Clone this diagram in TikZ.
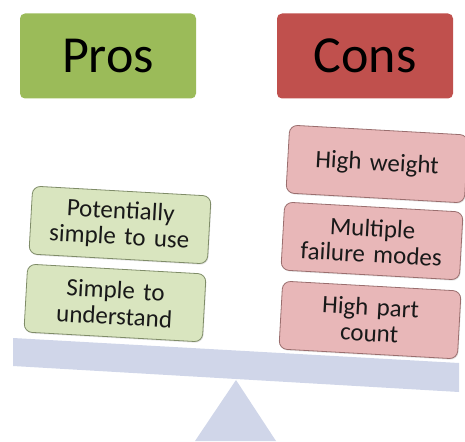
\documentclass[tikz,border=0pt]{standalone}
\usepackage{fontspec}
\setmainfont{Carlito}
\usetikzlibrary{shadows}
\definecolor{prohead}{HTML}{9BBB59}
\definecolor{conhead}{HTML}{C0504D}
\definecolor{profill}{HTML}{D9E5BF}
\definecolor{confill}{HTML}{E8B7B8}
\definecolor{proline}{HTML}{7F8C68}
\definecolor{conline}{HTML}{9A6E6E}
\definecolor{beamcolor}{HTML}{D0D6E9}
\newcommand{\tilt}{-3.2}

\begin{document}
\begin{tikzpicture}[x=1pt, y=-1pt,
    head/.style={rounded corners=5pt, minimum width=176pt, minimum height=85pt,
        font=\fontsize{52}{56}\selectfont, text=black},
    item/.style={rounded corners=8pt, minimum width=176pt, minimum height=68pt,
        text width=172pt, align=center, line width=0.8pt, rotate=\tilt,
        drop shadow={opacity=0.2, shadow xshift=0.8pt, shadow yshift=-1.2pt},
        font=\fontsize{25}{26}\selectfont, text=black!90}]
        \useasboundingbox (0, 0) rectangle (465, 441);
        \coordinate (BL) at (13, 338);
        \coordinate (BR) at (459, 363);
        \coordinate (BRb) at (459, 392);
        \coordinate (BLb) at (13, 366);
        \coordinate (T) at (236, 380);

        % fulcrum and beam
        \fill[beamcolor] (T) -- (276, 441) -- (195, 441) -- cycle;
        \fill[beamcolor] (BL) -- (BR) -- (BRb) -- (BLb) -- cycle;

        % headers
        \node[head, fill=prohead] (pros) at (108, 56) {Pros};
        \node[head, fill=conhead] (cons) at (365, 56) {Cons};

        % pros side
        \node[item, fill=profill, draw=proline] (simple) at (115, 303) {Simple to\\understand};
        \node[item, fill=profill, draw=proline] (potential) at (120, 225) {Potentially\\simple to use};

        % cons side
        \node[item, fill=confill, draw=conline] (partcount) at (370, 320) {High part\\count};
        \node[item, fill=confill, draw=conline] (failure) at (372, 241) {Multiple\\failure modes};
        \node[item, fill=confill, draw=conline] (weight) at (377, 164) {High weight};
    \end{tikzpicture}
\end{document}
